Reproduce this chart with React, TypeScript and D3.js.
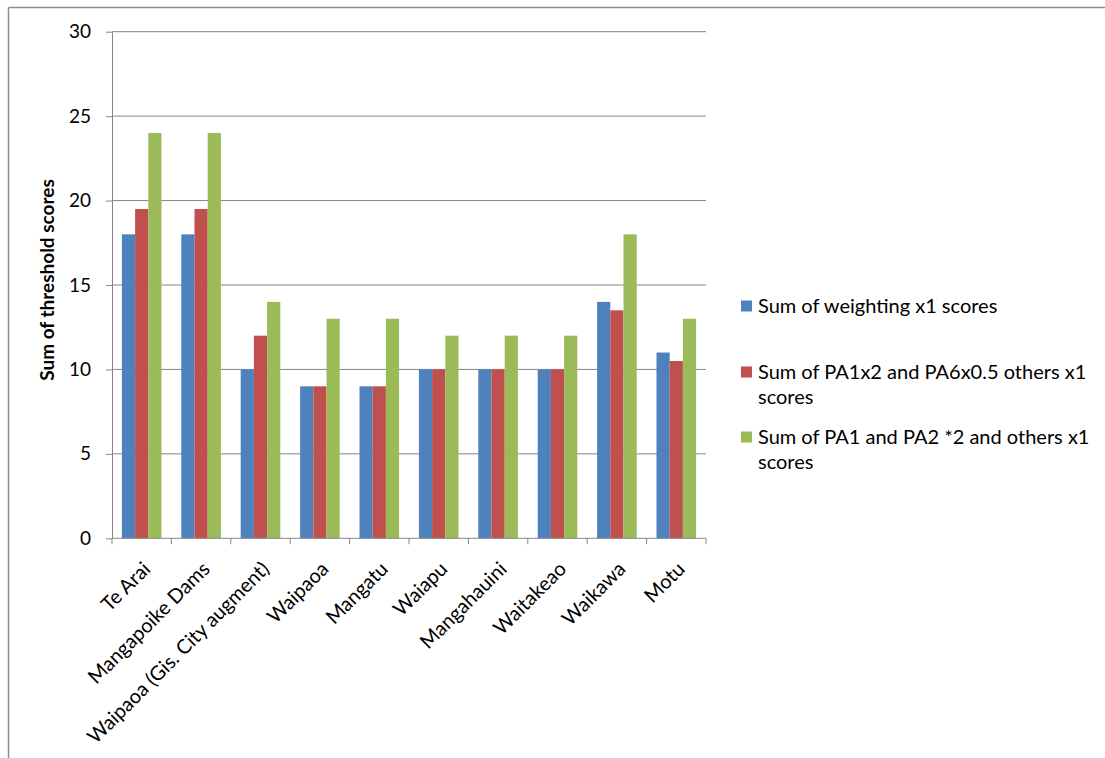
import React, { useEffect, useRef } from "react";
import * as d3 from "d3";

const W = 1105;
const H = 758;

const categories = [
  "Te Arai",
  "Mangapoike Dams",
  "Waipaoa (Gis. City augment)",
  "Waipaoa",
  "Mangatu",
  "Waiapu",
  "Mangahauini",
  "Waitakeao",
  "Waikawa",
  "Motu",
];

const seriesNames = [
  "Sum of weighting x1 scores",
  "Sum of PA1x2 and PA6x0.5 others x1 scores",
  "Sum of PA1 and PA2 *2 and others x1 scores",
];

const weightingX1 = [18, 18, 10, 9, 9, 10, 10, 10, 14, 11];
const pa1x2pa6 = [19.5, 19.5, 12, 9, 9, 10, 10, 10, 13.5, 10.5];
const pa1pa2x2 = [24, 24, 14, 13, 13, 12, 12, 12, 18, 13];

const yTicks = [0, 5, 10, 15, 20, 25, 30];

const COLORS = ["#4F81BD", "#C0504D", "#9BBB59"];
const GRID = "#868686";
const FONT = "Lato, 'Noto Sans', sans-serif";

const App = () => {
  const ref = useRef<SVGSVGElement>(null);

  useEffect(() => {
    const svg = d3.select(ref.current);
    svg.selectAll("*").remove();

    const plot = { left: 112, right: 706, top: 31.7, bottom: 538.3 };
    const series = [weightingX1, pa1x2pa6, pa1pa2x2];

    // outer chart frame (extends past the picture)
    svg.append("line").attr("x1", 8.5).attr("x2", W).attr("y1", 7.5).attr("y2", 7.5)
      .attr("stroke", "#8c8c8c").attr("stroke-width", 1.5);
    svg.append("line").attr("x1", 8.5).attr("x2", 8.5).attr("y1", 7.5).attr("y2", H)
      .attr("stroke", "#8c8c8c").attr("stroke-width", 1.5);

    let x = d3.scaleBand().domain(categories).range([plot.left, plot.right]).paddingInner(0).paddingOuter(0);
    let y = d3.scaleLinear().domain([0, 30]).range([plot.bottom, plot.top]);

    // gridlines
    svg.append("g").selectAll("line").data(yTicks.filter(d => d > 0)).join("line")
      .attr("x1", plot.left).attr("x2", plot.right)
      .attr("y1", d => y(d)).attr("y2", d => y(d))
      .attr("stroke", GRID).attr("stroke-width", 1);

    // y axis
    let yAxis = svg.append("g").attr("transform", `translate(${plot.left},0)`)
      .call(d3.axisLeft(y).tickValues(yTicks).tickSize(6).tickPadding(15).tickSizeOuter(0));
    yAxis.select(".domain").attr("stroke", GRID);
    yAxis.selectAll(".tick line").attr("stroke", GRID);
    yAxis.selectAll(".tick text").attr("font-family", FONT).attr("font-size", 19).attr("fill", "#000");

    // bars, excel-style 150% gap
    const bw = x.bandwidth() / 4.5;
    const pad = bw * 0.75;
    series.forEach((vals, si) => {
      svg.append("g").selectAll("rect").data(vals).join("rect")
        .attr("x", (d, i) => (x(categories[i]) as number) + pad + si * bw)
        .attr("y", d => y(d))
        .attr("width", bw)
        .attr("height", d => y(0) - y(d))
        .attr("fill", COLORS[si]);
    });

    // x axis
    svg.append("line").attr("x1", plot.left).attr("x2", plot.right)
      .attr("y1", y(0)).attr("y2", y(0)).attr("stroke", GRID);
    svg.append("g").selectAll("line").data(d3.range(categories.length + 1)).join("line")
      .attr("x1", i => plot.left + i * x.step()).attr("x2", i => plot.left + i * x.step())
      .attr("y1", y(0)).attr("y2", y(0) + 6)
      .attr("stroke", GRID);

    svg.append("g").selectAll("text").data(categories).join("text")
      .attr("transform", d => `translate(${(x(d) as number) + x.bandwidth() / 2 + 5},${y(0) + 27}) rotate(-45)`)
      .attr("text-anchor", "end")
      .attr("dy", "0.35em")
      .attr("font-family", FONT).attr("font-size", 20)
      .text(d => d);

    // y title
    svg.append("text")
      .attr("transform", `translate(54,${(plot.top + plot.bottom) / 2 - 5}) rotate(-90)`)
      .attr("text-anchor", "middle")
      .attr("font-family", FONT).attr("font-size", 19).attr("font-weight", "bold")
      .text("Sum of threshold scores");

    // legend
    const legendY = [306, 372, 437];
    const maxW = 335;
    seriesNames.forEach((name, i) => {
      let g = svg.append("g").attr("transform", `translate(741,${legendY[i]})`);
      g.append("rect").attr("x", 0).attr("y", -5.5).attr("width", 11).attr("height", 11).attr("fill", COLORS[i]);
      let t = g.append("text").attr("font-family", FONT).attr("font-size", 20);
      let words = name.split(" ");
      let line: string[] = [];
      let lineNo = 0;
      let tspan = t.append("tspan").attr("x", 17).attr("y", 0).attr("dy", "0.35em");
      for (let w of words) {
        line.push(w);
        tspan.text(line.join(" "));
        if ((tspan.node() as SVGTSpanElement).getComputedTextLength() > maxW && line.length > 1) {
          line.pop();
          tspan.text(line.join(" "));
          line = [w];
          lineNo++;
          tspan = t.append("tspan").attr("x", 17).attr("y", lineNo * 25).attr("dy", "0.35em").text(w);
        }
      }
    });
  }, []);

  return (
    <svg
      ref={ref}
      width={W}
      height={H}
      style={{ position: "absolute", left: 0, top: 0, background: "#fff" }}
    />
  );
};

export default App;
